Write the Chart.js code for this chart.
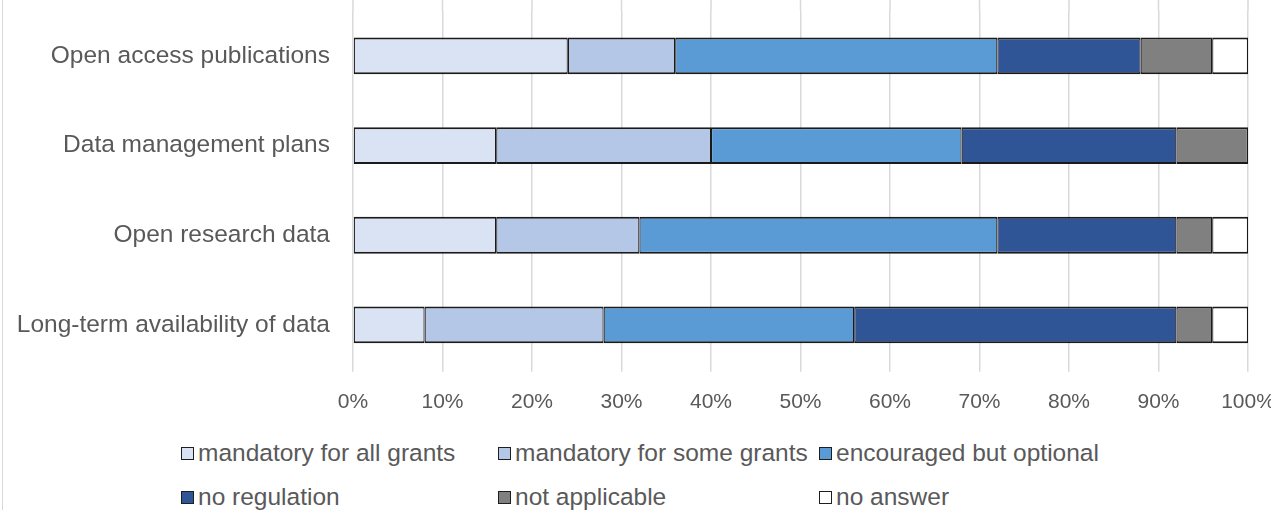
<!DOCTYPE html>
<html>
<head>
<meta charset="utf-8">
<script src="https://cdn.jsdelivr.net/npm/chart.js@4.4.1/dist/chart.umd.min.js"></script>
<style>
  html, body { margin: 0; padding: 0; background: #fff; }
  #wrap { position: relative; width: 1271px; height: 510px; overflow: hidden; font-family: "Liberation Sans", Arial, sans-serif; }
  #frame { position: absolute; left: 2px; top: 0; width: 1px; height: 510px; background: #d9d9d9; }
  #box { position: absolute; left: 0; top: 0; width: 1271px; height: 433px; }
  .item { position: absolute; display: flex; align-items: center; font-size: 24.5px; color: #595959; white-space: nowrap; line-height: 28px; }
  .sw { width: 13px; height: 13px; box-sizing: border-box; border: 1.5px solid #1f1f1f; margin-right: 4px; }
</style>
</head>
<body>
<div id="wrap">
  <div id="frame"></div>
  <div id="box"><canvas id="barChart"></canvas></div>
  <div id="legend"></div>
</div>
<script>
const categories = ['Open access publications', 'Data management plans', 'Open research data', 'Long-term availability of data'];
const seriesNames = ['mandatory for all grants', 'mandatory for some grants', 'encouraged but optional', 'no regulation', 'not applicable', 'no answer'];
const colors = ['#dae3f3', '#b4c7e7', '#5b9bd5', '#2f5597', '#808080', '#ffffff'];

// percentages per series, one value per category
const mandatoryAll = [24, 16, 16, 8];
const mandatorySome = [12, 24, 16, 20];
const encouraged = [36, 28, 40, 28];
const noRegulation = [16, 24, 20, 36];
const notApplicable = [8, 8, 4, 4];
const noAnswer = [4, 0, 4, 4];

const tickValues = [0, 10, 20, 30, 40, 50, 60, 70, 80, 90, 100];

const seriesValues = [mandatoryAll, mandatorySome, encouraged, noRegulation, notApplicable, noAnswer];

const ctx = document.getElementById('barChart').getContext('2d');

const data = {
  labels: categories,
  datasets: seriesValues.map((vals, i) => ({
    label: seriesNames[i],
    data: vals,
    backgroundColor: colors[i],
    borderColor: '#1a1a1a',
    borderWidth: { top: 2, bottom: 2, left: 1.2, right: 1.2 },
    borderSkipped: false,
    categoryPercentage: 1,
    barPercentage: 0.41
  }))
};

// gridlines run up to the top edge of the picture
const gridToTop = {
  id: 'gridToTop',
  beforeDatasetsDraw(chart) {
    const x = chart.scales.x;
    const c = chart.ctx;
    c.save();
    c.strokeStyle = '#d9d9d9';
    c.lineWidth = 1.5;
    tickValues.forEach(v => {
      const px = x.getPixelForValue(v);
      c.beginPath();
      c.moveTo(px, 0);
      c.lineTo(px, chart.chartArea.top);
      c.stroke();
    });
    c.restore();
  }
};

const config = {
  type: 'bar',
  data: data,
  plugins: [gridToTop],
  options: {
    indexAxis: 'y',
    responsive: true,
    maintainAspectRatio: false,
    animation: false,
    layout: { padding: { top: 11, right: 23, bottom: 0, left: 0 } },
    plugins: {
      legend: { display: false },
      tooltip: { enabled: false }
    },
    scales: {
      x: {
        stacked: true,
        min: 0,
        max: 100,
        afterBuildTicks: s => { s.ticks = tickValues.map(v => ({ value: v })); },
        afterFit: s => { s.paddingLeft = 0; s.paddingRight = 0; },
        ticks: {
          callback: v => v + '%',
          color: '#595959',
          font: { family: 'Liberation Sans', size: 21 },
          padding: 18,
          maxRotation: 0
        },
        grid: { color: '#d9d9d9', lineWidth: 1.5, tickLength: 2 },
        border: { display: false }
      },
      y: {
        stacked: true,
        afterFit: s => { s.width = 353; s.paddingTop = 0; s.paddingBottom = 0; },
        ticks: {
          color: '#595959',
          font: { family: 'Liberation Sans', size: 24.5 },
          padding: 15
        },
        grid: { display: false },
        border: { display: false }
      }
    }
  }
};
new Chart(ctx, config);

// legend in Excel-like columns
const legendPos = [[181, 453], [498, 453], [819, 453], [181, 497], [498, 497], [819, 497]];
const legend = document.getElementById('legend');
seriesNames.forEach((name, i) => {
  const el = document.createElement('div');
  el.className = 'item';
  el.style.left = legendPos[i][0] + 'px';
  el.style.top = (legendPos[i][1] - 14) + 'px';
  el.innerHTML = '<span class="sw" style="background:' + colors[i] + '"></span><span>' + name + '</span>';
  legend.appendChild(el);
});
</script>
</body>
</html>
